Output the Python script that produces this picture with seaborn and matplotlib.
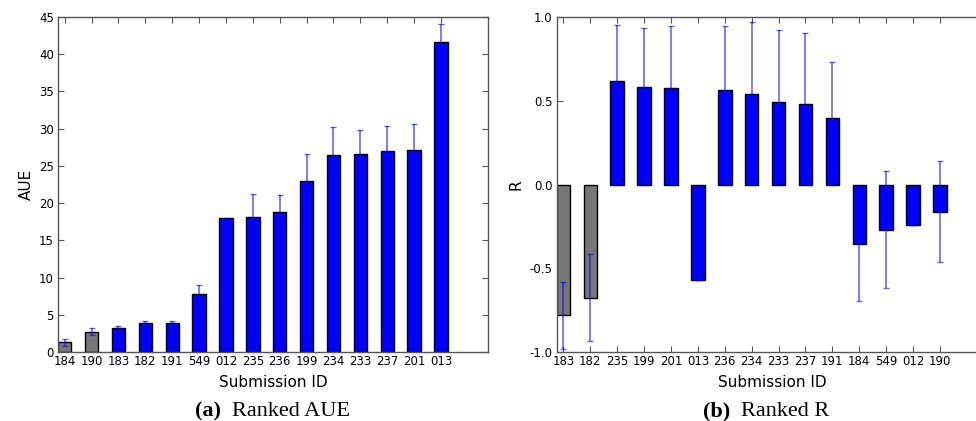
import matplotlib
matplotlib.use("Agg")
import matplotlib.pyplot as plt
import seaborn as sns
import pandas as pd

# ---- data ----
aue_ids = ["184", "190", "183", "182", "191", "549", "012", "235", "236",
           "199", "234", "233", "237", "201", "013"]
aue_vals = [1.3, 2.75, 3.2, 3.85, 3.85, 7.8, 17.95, 18.1, 18.8,
            23.0, 26.5, 26.6, 27.0, 27.1, 41.6]
aue_err = [0.45, 0.5, 0.3, 0.25, 0.35, 1.25, 0.1, 3.1, 2.3,
           3.65, 3.7, 3.2, 3.3, 3.5, 2.45]
aue_grey = ["184", "190"]

r_ids = ["183", "182", "235", "199", "201", "013", "236", "234", "233",
         "237", "191", "184", "549", "012", "190"]
r_vals = [-0.78, -0.675, 0.615, 0.585, 0.578, -0.568, 0.566, 0.542, 0.492,
          0.48, 0.395, -0.357, -0.27, -0.244, -0.162]
r_err = [0.2, 0.26, 0.335, 0.35, 0.37, 0.0, 0.38, 0.43, 0.43,
         0.425, 0.337, 0.34, 0.35, 0.0, 0.30]
r_grey = ["183", "182"]

sns.set_style("white")
plt.rcParams["font.family"] = ["DejaVu Sans"]
plt.rcParams["text.color"] = "black"
plt.rcParams["axes.labelcolor"] = "black"
plt.rcParams["xtick.color"] = "black"
plt.rcParams["ytick.color"] = "black"

W, H = 976, 421
fig = plt.figure(figsize=(W / 100, H / 100), dpi=100)

def px_axes(x0, y0, x1, y1):
    return fig.add_axes([x0 / W, 1 - y1 / H, (x1 - x0) / W, (y1 - y0) / H])

ax1 = px_axes(58, 17, 488, 352)
ax2 = px_axes(556.7, 17, 987, 352)

BLUE = "#0000ff"
GREY = "#777777"
ERRC = "#0000ff"

def draw(ax, ids, vals, errs, grey, ylim, yticks, ylabel):
    df = pd.DataFrame({"id": ids, "val": vals})
    pal = {i: (GREY if i in grey else BLUE) for i in ids}
    sns.barplot(data=df, x="id", y="val", hue="id", palette=pal, legend=False,
                order=ids, hue_order=ids, width=0.5, saturation=1,
                edgecolor="black", linewidth=1.0, ax=ax, zorder=2)
    xs = list(range(len(ids)))
    ax.errorbar(xs, vals, yerr=errs, fmt="none", ecolor=ERRC, alpha=0.6,
                elinewidth=1.2, capsize=2.5, capthick=1.0, zorder=3)
    ax.set_xlim(-0.25, 15.75)
    ax.set_ylim(*ylim)
    ax.set_yticks(yticks)
    ax.set_xticks(xs)
    ax.set_xticklabels(ids)
    ax.set_xlabel("Submission ID", fontsize=11, labelpad=5, color="black")
    ax.set_ylabel(ylabel, fontsize=11, labelpad=4, color="black")
    ax.tick_params(axis="both", direction="in", length=4, width=0.8,
                   color="#555555", labelcolor="black", labelsize=8.5, pad=3,
                   top=True, right=True, bottom=True, left=True)
    ax.tick_params(axis="x", pad=2)
    for s in ax.spines.values():
        s.set_visible(True)
        s.set_color("#555555")
        s.set_linewidth(1.0)

draw(ax1, aue_ids, aue_vals, aue_err, aue_grey, (0, 45),
     [0, 5, 10, 15, 20, 25, 30, 35, 40, 45], "AUE")
draw(ax2, r_ids, r_vals, r_err, r_grey, (-1.0, 1.0),
     [-1.0, -0.5, 0.0, 0.5, 1.0], "R")
ax2.yaxis.set_major_formatter(matplotlib.ticker.FormatStrFormatter("%.1f"))

# captions
cap_y = 1 - 416.5 / H
serif = ["Liberation Serif", "DejaVu Serif"]
fig.text(221 / W, cap_y, "(a)", ha="right", va="baseline", fontsize=16,
         fontweight="bold", family=serif, color="black")
fig.text(232 / W, cap_y, "Ranked AUE", ha="left", va="baseline", fontsize=16,
         family=serif, color="black")
fig.text(730 / W, cap_y, "(b)", ha="right", va="baseline", fontsize=16,
         fontweight="bold", family=serif, color="black")
fig.text(741 / W, cap_y, "Ranked R", ha="left", va="baseline", fontsize=16,
         family=serif, color="black")

fig.savefig("out.png", dpi=100)
